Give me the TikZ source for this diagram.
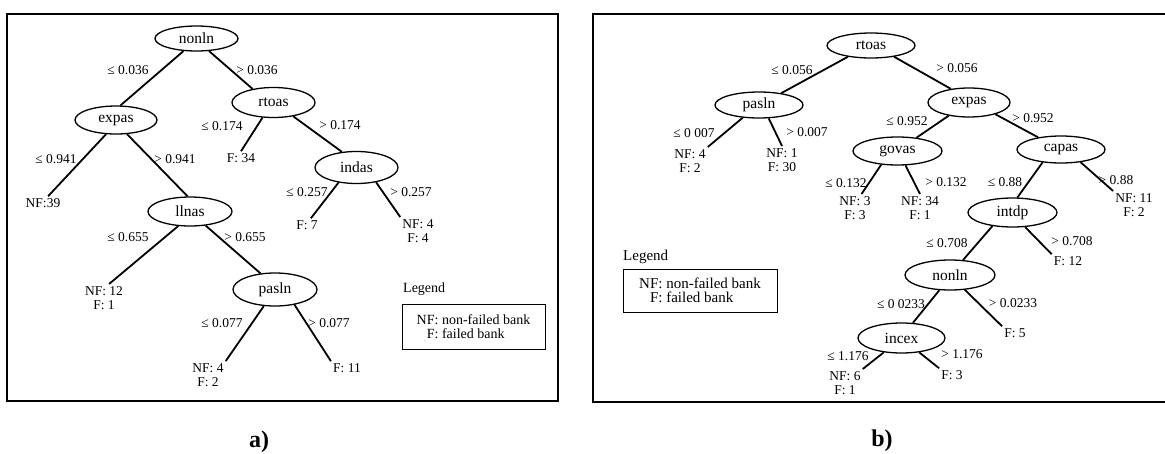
\documentclass[tikz,border=0pt]{standalone}
\usepackage{fontspec}
\setmainfont{Liberation Serif}
\usetikzlibrary{shapes.geometric}
\begin{document}
\begin{tikzpicture}[x=1pt,y=-1pt,
  tn/.style={ellipse,draw,line width=1.3pt,inner sep=0pt,font=\fontsize{15.5}{16}\selectfont},
  lf/.style={align=center,inner sep=2pt,font=\fontsize{13.5}{14.5}\selectfont},
  el/.style={inner sep=0pt,font=\fontsize{13.5}{15}\selectfont},
  br/.style={line width=1.8pt},
  panelframe/.style={line width=2.5pt},
  legbox/.style={draw,line width=1pt,align=left,inner sep=0pt},
  captext/.style={font=\bfseries\fontsize{24}{24}\selectfont,inner sep=0pt}
]
\useasboundingbox (0,0) rectangle (1165,453);
% ---------- panel a ----------
\draw[panelframe] (7,14) rectangle (558,401);
\node[tn,minimum width=83pt,minimum height=25pt] (a0) at (196.5,38.5) {nonln};
\node[tn,minimum width=82pt,minimum height=28pt] (a1) at (116,120) {expas};
\node[tn,minimum width=83pt,minimum height=30pt] (a2) at (273.5,102.5) {rtoas};
\node[tn,minimum width=83pt,minimum height=32pt] (a3) at (356.5,167.5) {indas};
\node[tn,minimum width=84pt,minimum height=29pt] (a4) at (190,211.5) {llnas};
\node[tn,minimum width=84pt,minimum height=33pt] (a5) at (275,289.5) {pasln};
\node[lf] (aL1) at (43,203) {NF:39};
\node[lf] (aL2) at (241,158) {F: 34};
\node[lf] (aL3) at (307,225) {F: 7};
\node[lf] (aL4) at (418,231) {NF: 4\\F: 4};
\node[lf] (aL5) at (104,298) {NF: 12\\F: 1};
\node[lf] (aL6) at (208,375) {NF: 4\\F: 2};
\node[lf] (aL7) at (347,368) {F: 11};
\draw[br] (a0.-136) -- (a1.73);
\draw[br] (a0.-45) -- (a2.147);
\draw[br] (a1.-125) -- (aL1.53);
\draw[br] (a1.-52) -- (a4.99);
\draw[br] (a2.-126) -- (aL2.north);
\draw[br] (a2.-35) -- (a3.133);
\draw[br] (a3.-140) -- (aL3.60);
\draw[br] (a3.-37) -- (aL4.north west);
\draw[br] (a4.-129) -- (aL5.70);
\draw[br] (a4.-42) -- (a5.132);
\draw[br] (a5.-124) -- (aL6.north east);
\draw[br] (a5.-38) -- (aL7.north west);
\node[el] (ae1) at (128,70) {≤ 0.036};
\node[el] (ae2) at (257,70) {> 0.036};
\node[el] (ae3) at (222,126) {≤ 0.174};
\node[el] (ae4) at (340,125) {> 0.174};
\node[el] (ae5) at (56,159) {≤ 0.941};
\node[el] (ae6) at (175,159) {> 0.941};
\node[el] (ae7) at (307,192) {≤ 0.257};
\node[el] (ae8) at (411,192) {> 0.257};
\node[el] (ae9) at (128,237) {≤ 0.655};
\node[el] (ae10) at (245,237) {> 0.655};
\node[el] (ae11) at (222,323) {≤ 0.077};
\node[el] (ae12) at (329,323) {> 0.077};
\node[el,anchor=west,font=\fontsize{14}{15}\selectfont] (aleg) at (403,289) {Legend};
\node[legbox,minimum width=143pt,minimum height=45pt,font=\fontsize{14}{14.5}\selectfont] (abox) at (473.5,326.5) {NF: non-failed bank\\\hphantom{N}F: failed bank};
\node[captext] (acap) at (259,442) {a)};
% ---------- panel b ----------
\begin{scope}
\clip (0,0) rectangle (1165,453);
\draw[panelframe] (593,14) rectangle (1180,402);
\end{scope}
\node[tn,minimum width=88pt,minimum height=25pt] (b0) at (871,45.5) {rtoas};
\node[tn,minimum width=88pt,minimum height=26pt] (b1) at (759,105) {pasln};
\node[tn,minimum width=82pt,minimum height=29pt] (b2) at (969,102.5) {expas};
\node[tn,minimum width=89pt,minimum height=28pt] (b3) at (897.5,151) {govas};
\node[tn,minimum width=88pt,minimum height=27pt] (b4) at (1061,149.5) {capas};
\node[tn,minimum width=89pt,minimum height=29pt] (b5) at (1012.5,212.5) {intdp};
\node[tn,minimum width=90pt,minimum height=30pt] (b6) at (950,275) {nonln};
\node[tn,minimum width=87pt,minimum height=30pt] (b7) at (901.5,338) {incex};
\node[lf] (bL1) at (690,161) {NF: 4\\F: 2};
\node[lf] (bL2) at (782,160) {NF: 1\\F: 30};
\node[lf] (bL3) at (855,208) {NF: 3\\F: 3};
\node[lf] (bL4) at (920,208) {NF: 34\\F: 1};
\node[lf] (bL5) at (1134,205) {NF: 11\\F: 2};
\node[lf] (bL6) at (1068,261) {F: 12};
\node[lf] (bL7) at (1015,333) {F: 5};
\node[lf] (bL8) at (845,383) {NF: 6\\F: 1};
\node[lf] (bL9) at (952,375) {F: 3};
\draw[br] (b0.-154) -- (b1.28);
\draw[br] (b0.-26) -- (b2.143);
\draw[br] (b1.-142) -- (bL1.north east);
\draw[br] (b1.-54) -- (bL2.north);
\draw[br] (b2.-147) -- (b3.35);
\draw[br] (b2.-24) -- (b4.152);
\draw[br] (b3.-140) -- (bL3.65);
\draw[br] (b3.-61) -- (bL4.north);
\draw[br] (b4.-145) -- (b5.72);
\draw[br] (b4.-33) -- (bL5.north west);
\draw[br] (b5.-146) -- (b6.49);
\draw[br] (b5.-49) -- (bL6.north west);
\draw[br] (b6.-125) -- (b7.53);
\draw[br] (b6.-45) -- (bL7.north west);
\draw[br] (b7.-141) -- (bL8.north east);
\draw[br] (b7.-39) -- (bL9.north west);
\node[el] (be1) at (792,70) {≤ 0.056};
\node[el] (be2) at (957,68) {> 0.056};
\node[el] (be3) at (694,133) {≤ 0 007};
\node[el] (be4) at (807,132) {> 0.007};
\node[el] (be5) at (907,121) {≤ 0.952};
\node[el] (be6) at (1033,118) {> 0.952};
\node[el] (be7) at (846,183) {≤ 0.132};
\node[el] (be8) at (946,182) {> 0.132};
\node[el] (be9) at (1005,182) {≤ 0.88};
\node[el] (be10) at (1116,180) {> 0.88};
\node[el] (be11) at (947,243) {≤ 0.708};
\node[el] (be12) at (1072,241) {> 0.708};
\node[el] (be13) at (901,304) {≤ 0 0233};
\node[el] (be14) at (1013,303) {> 0.0233};
\node[el] (be15) at (848,356) {≤ 1.176};
\node[el] (be16) at (962,354) {> 1.176};
\node[el,anchor=west,font=\fontsize{15}{16}\selectfont] (bleg) at (623,257) {Legend};
\node[legbox,minimum width=154pt,minimum height=43pt,font=\fontsize{15}{14}\selectfont] (bbox) at (700,290.5) {NF: non-failed bank\\\hphantom{N}F: failed bank};
\node[captext] (bcap) at (882,441) {b)};
\end{tikzpicture}
\end{document}
